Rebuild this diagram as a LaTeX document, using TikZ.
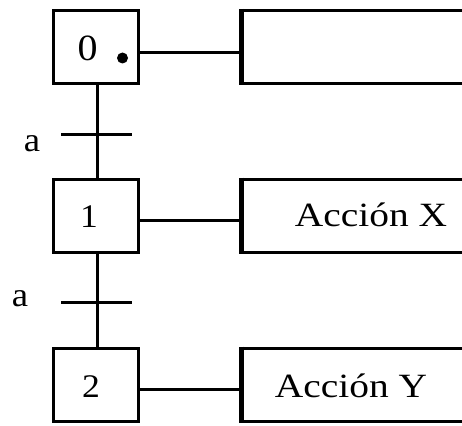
\documentclass[tikz,border=0pt]{standalone}
\usepackage{fontspec}
\setmainfont{Liberation Serif}
\newfontfamily\widefont[FakeStretch=1.16]{Liberation Serif}
\newfontfamily\digfont[FakeStretch=1.08]{Liberation Serif}
\begin{document}
\begin{tikzpicture}[x=1pt,y=-1pt,
  stepbox/.style={draw,line width=3pt,minimum width=85pt,minimum height=73pt,inner sep=0pt},
  actbox/.style={draw,line width=3pt,minimum width=300pt,minimum height=73pt,inner sep=0pt,anchor=west},
  txt/.style={inner sep=0pt,anchor=base,font=\widefont\fontsize{34}{34}\selectfont},
  dig/.style={inner sep=0pt,anchor=base,font=\digfont\fontsize{33}{33}\selectfont},
  lbl/.style={inner sep=0pt,anchor=base,font=\digfont\fontsize{34}{34}\selectfont},
  link/.style={line width=3pt},
  bar/.style={line width=3pt}]
\useasboundingbox (0,0) rectangle (462,425);
\clip (0,0) rectangle (462,425);
\fill[white] (0,0) rectangle (462,425);
% steps
\node[stepbox] (s0) at (96,47) {};
\node[dig,font=\digfont\fontsize{37}{37}\selectfont] (n0) at (87.5,61) {0};
\fill (122.5,58) circle (5.5pt) coordinate (dot);
\node[stepbox] (s1) at (96,215.5) {};
\node[dig] (n1) at (89,227) {1};
\node[stepbox] (s2) at (96,384.5) {};
\node[dig] (n2) at (91,397) {2};
% action boxes
\node[actbox] (a0) at (241,47) {};
\node[actbox] (a1) at (241,215.5) {};
\node[actbox] (a2) at (241,384.5) {};
\draw[line width=5pt] (a0.north west) -- (a0.south west);
\draw[line width=5pt] (a1.north west) -- (a1.south west);
\draw[line width=5pt] (a2.north west) -- (a2.south west);
\node[txt] (tx) at (371,226) {Acción X};
\node[txt] (ty) at (351,397) {Acción Y};
% links to actions
\draw[link] ([yshift=-6pt]s0.east) -- ([yshift=-6pt]a0.west);
\draw[link] ([yshift=-4.5pt]s1.east) -- ([yshift=-4.5pt]a1.west);
\draw[link] ([yshift=-4.5pt]s2.east) -- ([yshift=-4.5pt]a2.west);
% transitions
\coordinate (t1) at (97,134);
\coordinate (t2) at (97,302);
\draw[link] (s0.south -| t1) -- (s1.north -| t1);
\draw[link] (s1.south -| t2) -- (s2.north -| t2);
\draw[bar] ([xshift=-36pt]t1) -- ([xshift=35pt]t1);
\draw[bar] ([xshift=-36pt]t2) -- ([xshift=35pt]t2);
\node[lbl] (c1) at (32,151) {a};
\node[lbl] (c2) at (20,306) {a};
\end{tikzpicture}
\end{document}
